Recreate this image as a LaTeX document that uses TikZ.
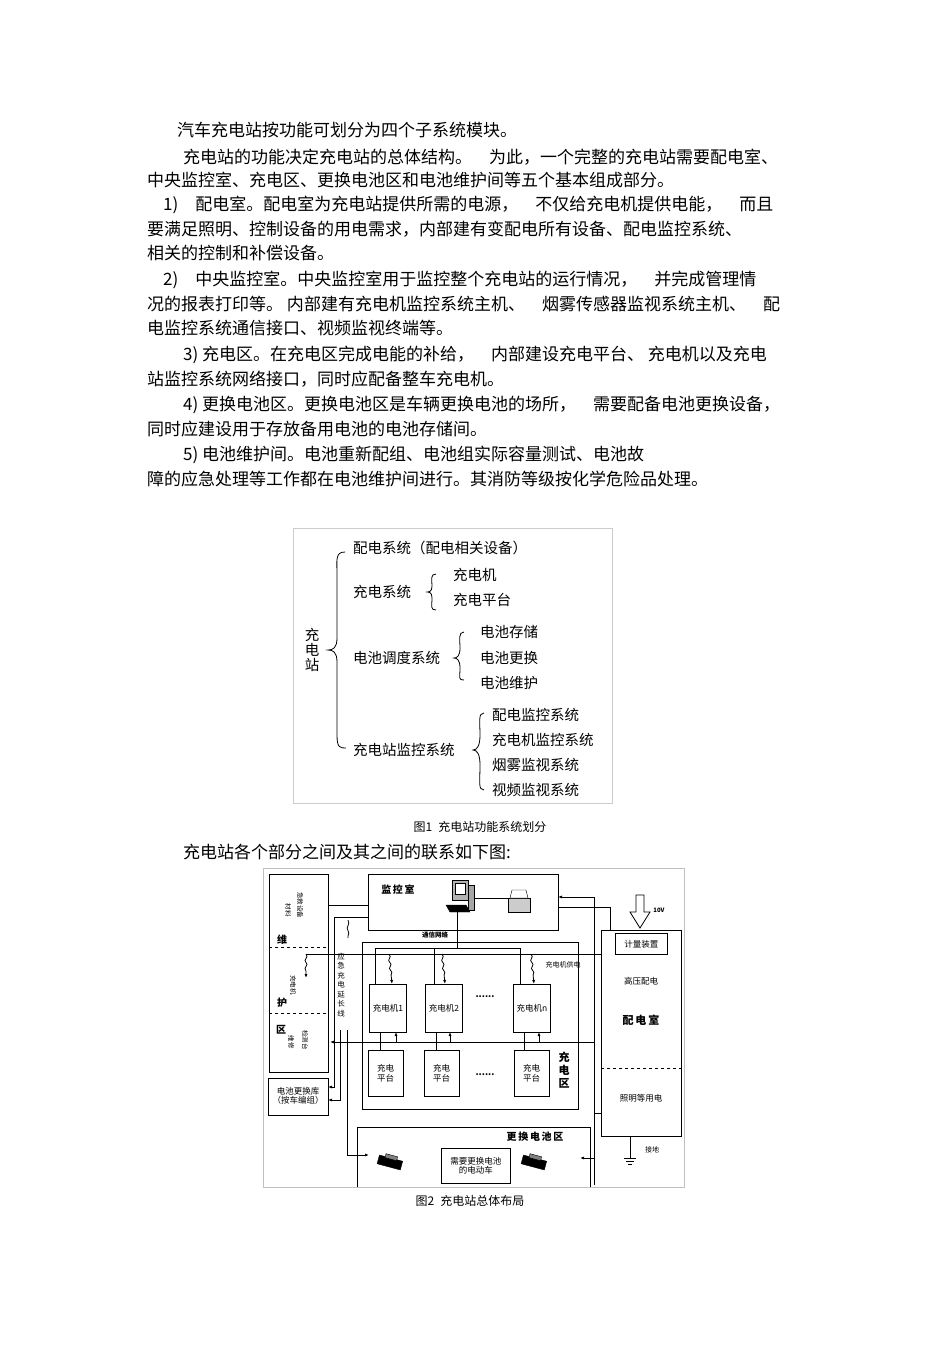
\documentclass[tikz,border=0pt]{standalone}
\usepackage{fontspec}
\setmainfont{Noto Sans CJK SC}
\usetikzlibrary{arrows.meta,decorations.pathmorphing}
\begin{document}
\begin{tikzpicture}[x=1pt,y=-1pt,
  body/.style={anchor=west,inner sep=0pt,font=\fontsize{17}{18}\selectfont},
  f1/.style={anchor=west,inner sep=0pt,font=\fontsize{14.5}{15}\selectfont},
  sm/.style={inner sep=0pt,font=\fontsize{8.5}{9.5}\selectfont,align=center},
  bx/.style={draw,line width=1pt},
  ln/.style={line width=0.8pt},
  ar/.style={ln,-{Latex[length=4pt]}},
  captxt/.style={inner sep=0pt,font=\fontsize{12}{13}\selectfont}]
\useasboundingbox[fill=white] (0,0) rectangle (950,1345);
% body text
\node[body] (t1) at (177,130) {汽车充电站按功能可划分为四个子系统模块。};
\node[body] (t2) at (183,157) {充电站的功能决定充电站的总体结构。\quad 为此，一个完整的充电站需要配电室、};
\node[body] (t3) at (147,180) {中央监控室、充电区、更换电池区和电池维护间等五个基本组成部分。};
\node[body] (t4) at (163,205) {1)\quad 配电室。配电室为充电站提供所需的电源，\quad 不仅给充电机提供电能，\quad 而且};
\node[body] (t5) at (147,229) {要满足照明、控制设备的用电需求，内部建有变配电所有设备、配电监控系统、};
\node[body] (t6) at (147,253) {相关的控制和补偿设备。};
\node[body] (t7) at (163,280) {2)\quad 中央监控室。中央监控室用于监控整个充电站的运行情况，\quad 并完成管理情};
\node[body] (t8) at (147,304) {况的报表打印等。 内部建有充电机监控系统主机、\quad 烟雾传感器监视系统主机、\quad 配};
\node[body] (t9) at (147,328) {电监控系统通信接口、视频监视终端等。};
\node[body] (t10) at (183,355) {3) 充电区。在充电区完成电能的补给，\quad 内部建设充电平台、 充电机以及充电};
\node[body] (t11) at (147,379) {站监控系统网络接口，同时应配备整车充电机。};
\node[body] (t12) at (183,405) {4) 更换电池区。更换电池区是车辆更换电池的场所，\quad 需要配备电池更换设备，};
\node[body] (t13) at (147,429) {同时应建设用于存放备用电池的电池存储间。};
\node[body] (t14) at (183,455) {5) 电池维护间。电池重新配组、电池组实际容量测试、电池故};
\node[body] (t15) at (147,479) {障的应急处理等工作都在电池维护间进行。其消防等级按化学危险品处理。};
% figure 1
\draw[gray!40] (293,528) rectangle (612,803);
\node[f1,anchor=center,align=center] (root) at (312,650) {充\\电\\站};
\draw[ln] (345,552) .. controls (335,552) and (337,560) .. (337,575) -- (337,638) .. controls (337,648) and (333,650) .. (328,650)
  .. controls (333,650) and (337,652) .. (337,662) -- (337,735) .. controls (337,748) and (340,748) .. (346,748);
\node[f1] (a) at (353,548) {配电系统（配电相关设备）};
\node[f1] (b) at (353,592) {充电系统};
\draw[ln] (436,574) .. controls (430,574) and (432,580) .. (432,586) .. controls (432,592) and (429,592) .. (426,592)
  .. controls (429,592) and (432,592) .. (432,598) .. controls (432,606) and (430,610) .. (436,610);
\node[f1] (b1) at (453,575) {充电机};
\node[f1] (b2) at (453,600) {充电平台};
\node[f1] (c) at (353,658) {电池调度系统};
\draw[ln] (464,632) .. controls (458,632) and (460,640) .. (460,648) .. controls (460,656) and (457,658) .. (454,658)
  .. controls (457,658) and (460,660) .. (460,668) .. controls (460,678) and (458,680) .. (464,680);
\node[f1] (c1) at (480,632) {电池存储};
\node[f1] (c2) at (480,658) {电池更换};
\node[f1] (c3) at (480,683) {电池维护};
\node[f1] (d) at (353,750) {充电站监控系统};
\draw[ln] (484,713) .. controls (478,713) and (480,722) .. (480,735) .. controls (480,746) and (477,750) .. (473,750)
  .. controls (477,750) and (480,754) .. (480,765) .. controls (480,782) and (478,790) .. (484,790);
\node[f1] (d1) at (492,715) {配电监控系统};
\node[f1] (d2) at (492,740) {充电机监控系统};
\node[f1] (d3) at (492,765) {烟雾监视系统};
\node[f1] (d4) at (492,790) {视频监视系统};
\node[captxt] (cap1) at (480,827) {图1\enspace 充电站功能系统划分};
\node[body] (t16) at (183,852) {充电站各个部分之间及其之间的联系如下图:};
% figure 2
\draw[gray!50] (263,868) rectangle (684,1187);
\node[bx,minimum width=59,minimum height=198,anchor=north west,inner sep=0] (L) at (269,874) {};
\draw[dashed,ln] (269,947) -- (328,947) (269,1013) -- (328,1013);
\node[sm,font=\fontsize{10}{11}\bfseries] (wei) at (282,940) {维};
\node[sm,font=\fontsize{10}{11}\bfseries] (hu) at (282,1003) {护};
\node[sm,font=\fontsize{10}{11}\bfseries] (qu) at (281,1030) {区};
\node[sm,font=\fontsize{6.5}{7}\selectfont,rotate=-90] (l1) at (300,905) {急救设备};
\node[sm,font=\fontsize{6.5}{7}\selectfont,rotate=-90] (l1b) at (288,910) {材料};
\node[sm,font=\fontsize{6.5}{7}\selectfont,rotate=-90] (l2) at (293,985) {充电机};
\node[sm,font=\fontsize{6.5}{7}\selectfont,rotate=-90] (l3) at (291,1042) {维修};
\node[sm,font=\fontsize{6.5}{7}\selectfont,rotate=-90] (l4) at (305,1040) {检测台};
\node[bx,minimum width=60,minimum height=37,anchor=north west,inner sep=0] (K) at (268,1078) {};
\node[sm] (kt) at (298,1096) {电池更换库\\（按车编组）};
\node[bx,minimum width=190,minimum height=56,anchor=north west,inner sep=0] (M) at (368,874) {};
\node[sm,font=\fontsize{10}{11}\bfseries] (mt) at (398,890) {监\,控\,室};
% computer
\draw[fill=gray!60] (452,880) rectangle (468,900);
\draw[fill=white] (455,883) rectangle (465,894);
\draw[fill=black] (446,905) -- (466,905) -- (470,912) -- (450,912) -- cycle;
\draw[fill=gray!70] (468,885) rectangle (474,910);
\coordinate (pc) at (457,912);
% printer
\draw[fill=gray!40] (508,898) rectangle (530,912);
\draw[fill=white] (512,890) -- (526,890) -- (528,898) -- (510,898) -- cycle;
\draw[ln] (474,898) -- (508,898);
\node[sm,font=\fontsize{6.5}{7}\bfseries] (net) at (435,935) {通信网络};
\node[bx,minimum width=216,minimum height=167,anchor=north west,inner sep=0] (C) at (362,942) {};
\foreach \x/\n in {369/c1,425/c2,513/cn}{
  \node[bx,minimum width=37,minimum height=48,anchor=north west,inner sep=0] (\n) at (\x,984) {};}
\foreach \x/\n in {368/p1,424/p2,514/pn}{
  \node[bx,minimum width=35,minimum height=46,anchor=north west,inner sep=0] (\n) at (\x,1050) {};
  \node[sm] at (\x+17.5,1073) {充电\\平台};}
\node[sm] at (c1) {充电机1};
\node[sm] at (c2) {充电机2};
\node[sm] at (cn) {充电机n};
\node[sm,font=\fontsize{9}{9}\bfseries] (d1) at (485,997) {......};
\node[sm,font=\fontsize{9}{9}\bfseries] (d2) at (485,1075) {......};
\node[sm,font=\fontsize{11}{13}\bfseries] (cq) at (564,1070) {充\\电\\区};
% network bus
\draw[ln] (pc) -- (457,948);
\draw[ln] (375,984) -- (375,948) -- (520,948) -- (520,984);
\draw[ln] (434,948) -- (434,984);
% power room
\node[bx,minimum width=80,minimum height=206,anchor=north west,inner sep=0] (P) at (601,930) {};
\node[draw,ln,minimum width=52,minimum height=21,anchor=north west,inner sep=0] (meter) at (615,933) {};
\node[sm] at (meter) {计量装置};
\node[sm] (hv) at (641,981) {高压配电};
\node[sm,font=\fontsize{11}{12}\bfseries] (pr) at (641,1020) {配\,电\,室};
\draw[dashed,ln] (601,1068) -- (681,1068);
\node[sm] (lt) at (641,1098) {照明等用电};
\draw[ln,fill=white] (636,895) -- (644,895) -- (644,912) -- (650,912) -- (640,928) -- (630,912) -- (636,912) -- cycle;
\node[sm,font=\fontsize{6}{7}\bfseries] (v) at (659,910) {10V};
\draw[ln] (630,1136) -- (630,1158);
\draw[ln] (624,1158) -- (636,1158) (626,1161) -- (634,1161) (628,1164) -- (632,1164);
\node[sm,font=\fontsize{7}{8}\selectfont] (gd) at (652,1150) {接地};
\draw[ln] (P.west |- 0,954) -- (306,954);
\draw[ar,decorate,decoration={snake,amplitude=1pt,segment length=8pt,post length=6pt}] (306,954) -- (306,978);
\foreach \x/\n in {392/c1,445/c2,534/cn}{
  \draw[ar,decorate,decoration={snake,amplitude=1pt,segment length=8pt,post length=6pt}] (\x-3,954) -- (\x,984);}
\node[sm,font=\fontsize{7}{8}\selectfont] (gl) at (563,965) {充电机供电};
% control line to chargers
\draw[ar] (594,1042) -- (330,1042);
\foreach \x in {396,450,539}{\draw[ar] (\x,1042) -- (\x,1032);}
\draw[ln] (380,1050) -- (380,1032) (436,1050) -- (436,1032) (524,1050) -- (524,1032);
% right vertical and connections
\draw[ar] (594,1185) -- (594,897) -- (558,897);
\draw[ln] (610,930) -- (610,907) -- (558,907);
\draw[ln] (594,1113) -- (601,1113);
% swap area
\draw[bx] (357,1187) -- (357,1127) -- (590,1127) -- (590,1187);
\node[sm,font=\fontsize{10}{11}\bfseries] (st) at (535,1137) {更\,换\,电\,池\,区};
\node[draw,ln,minimum width=69,minimum height=35,anchor=north west,inner sep=0,align=center] (ev) at (441,1148) {};
\node[sm] at (ev) {需要更换电池\\的电动车};
\foreach \x in {390,534}{
  \draw[fill=black,rotate around={-15:(\x,1162)}] (\x-12,1158) rectangle (\x+12,1167);
  \draw[fill=gray,rotate around={-15:(\x,1162)}] (\x-6,1155) rectangle (\x+6,1159);}
\draw[ar] (594,1158) -- (580,1158);
% left connections
\draw[ln] (M.west |- 0,905) -- (L.east |- 0,905);
\draw[ar] (368,917) -- (334,917) -- (334,1087) -- (328,1087);
\node[sm,font=\fontsize{7.5}{9.5}\selectfont] (yj) at (341,985) {应\\急\\充\\电\\延\\长\\线};
\draw[ln,decorate,decoration={snake,amplitude=0.8pt,segment length=10pt}] (348,920) -- (348,938);
\draw[ar] (340,1030) -- (340,1100) -- (328,1100);
\draw[ar] (347,1030) -- (347,1155) -- (369,1155);
\node[captxt] (cap2) at (470,1201) {图2\enspace 充电站总体布局};
\end{tikzpicture}
\end{document}
